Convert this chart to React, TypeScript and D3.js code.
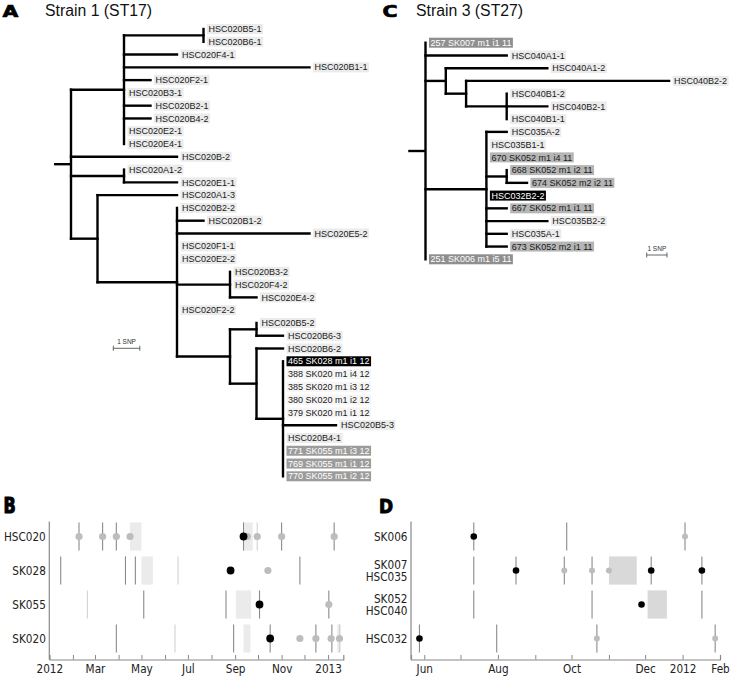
import React, { useEffect, useRef } from "react";
import * as d3 from "d3";

// ---------- Panel A tree: [id, parent, branch length in SNPs] ----------
const treeANodes: [string, string, number][] = [
  ["rootA", "", 0],
  ["a1", "rootA", 2],
  ["a1a", "a1", 3],
  ["HSC020B5-1", "a1a", 0],
  ["HSC020B6-1", "a1a", 0],
  ["HSC020F4-1", "a1", 2],
  ["HSC020B1-1", "a1", 7],
  ["HSC020F2-1", "a1", 1],
  ["HSC020B3-1", "a1", 0],
  ["HSC020B2-1", "a1", 1],
  ["HSC020B4-2", "a1", 1],
  ["HSC020E2-1", "a1", 0],
  ["HSC020E4-1", "a1", 0],
  ["HSC020B-2", "rootA", 4],
  ["a2", "rootA", 2],
  ["HSC020A1-2", "a2", 0],
  ["HSC020E1-1", "a2", 2],
  ["a3", "rootA", 1],
  ["HSC020A1-3", "a3", 3],
  ["a4", "a3", 3],
  ["HSC020B2-2", "a4", 0],
  ["HSC020B1-2", "a4", 1],
  ["HSC020E5-2", "a4", 5],
  ["HSC020F1-1", "a4", 0],
  ["HSC020E2-2", "a4", 0],
  ["a5", "a4", 2],
  ["HSC020B3-2", "a5", 0],
  ["HSC020F4-2", "a5", 0],
  ["HSC020E4-2", "a5", 1],
  ["HSC020F2-2", "a4", 0],
  ["a6", "a4", 2],
  ["a7", "a6", 1],
  ["HSC020B5-2", "a7", 0],
  ["HSC020B6-3", "a7", 1],
  ["a8", "a6", 1],
  ["HSC020B6-2", "a8", 1],
  ["a9", "a8", 1],
  ["465 SK028 m1 i1 12", "a9", 0],
  ["388 SK020 m1 i4 12", "a9", 0],
  ["385 SK020 m1 i3 12", "a9", 0],
  ["380 SK020 m1 i2 12", "a9", 0],
  ["379 SK020 m1 i1 12", "a9", 0],
  ["HSC020B5-3", "a9", 2],
  ["HSC020B4-1", "a9", 0],
  ["771 SK055 m1 i3 12", "a9", 0],
  ["769 SK055 m1 i1 12", "a9", 0],
  ["770 SK055 m1 i2 12", "a9", 0],
];

const labelStylesA: [string, string][] = [
  ["465 SK028 m1 i1 12", "black"],
  ["388 SK020 m1 i4 12", "plain"],
  ["385 SK020 m1 i3 12", "plain"],
  ["380 SK020 m1 i2 12", "plain"],
  ["379 SK020 m1 i1 12", "plain"],
  ["771 SK055 m1 i3 12", "gray"],
  ["769 SK055 m1 i1 12", "gray"],
  ["770 SK055 m1 i2 12", "gray"],
];

// ---------- Panel C tree ----------
const treeCNodes: [string, string, number][] = [
  ["rootC", "", 0],
  ["257 SK007 m1 i1 11", "rootC", 0],
  ["HSC040A1-1", "rootC", 4],
  ["cX", "rootC", 1],
  ["HSC040A1-2", "cX", 5],
  ["cY", "cX", 1],
  ["HSC040B2-2", "cY", 10],
  ["cZ", "cY", 2],
  ["HSC040B1-2", "cZ", 0],
  ["HSC040B2-1", "cZ", 2],
  ["HSC040B1-1", "cZ", 0],
  ["cW", "rootC", 3],
  ["HSC035A-2", "cW", 1],
  ["HSC035B1-1", "cW", 0],
  ["670 SK052 m1 i4 11", "cW", 0],
  ["cV", "cW", 1],
  ["668 SK052 m1 i2 11", "cV", 0],
  ["674 SK052 m2 i2 11", "cV", 1],
  ["HSC032B2-2", "cW", 0],
  ["667 SK052 m1 i1 11", "cW", 1],
  ["HSC035B2-2", "cW", 3],
  ["HSC035A-1", "cW", 1],
  ["673 SK052 m2 i1 11", "cW", 1],
  ["251 SK006 m1 i5 11", "rootC", 0],
];

const labelStylesC: [string, string][] = [
  ["257 SK007 m1 i1 11", "dark"],
  ["670 SK052 m1 i4 11", "mid"],
  ["668 SK052 m1 i2 11", "mid"],
  ["674 SK052 m2 i2 11", "mid"],
  ["HSC032B2-2", "black"],
  ["667 SK052 m1 i1 11", "mid"],
  ["673 SK052 m2 i1 11", "mid"],
  ["251 SK006 m1 i5 11", "dark"],
];

// ---------- Panel B timeline ----------
const rowsB = ["HSC020", "SK028", "SK055", "SK020"];
const tickLabelsB = ["2012", "", "Mar", "", "May", "", "Jul", "", "Sep", "", "Nov", "", "2013"];
const domainB = ["2012-01-01", "2013-01-21"];
// [row, date, tone]
const linesB: [string, string, string][] = [
  ["HSC020", "2012-02-09", "dark"],
  ["HSC020", "2012-03-11", "dark"],
  ["HSC020", "2012-03-29", "dark"],
  ["HSC020", "2012-09-12", "dark"],
  ["HSC020", "2012-09-30", "light"],
  ["HSC020", "2012-11-01", "dark"],
  ["HSC020", "2013-01-09", "dark"],
  ["SK028", "2012-01-16", "dark"],
  ["SK028", "2012-04-10", "dark"],
  ["SK028", "2012-04-23", "dark"],
  ["SK028", "2012-06-18", "light"],
  ["SK028", "2012-11-25", "dark"],
  ["SK055", "2012-02-20", "light"],
  ["SK055", "2012-05-04", "dark"],
  ["SK055", "2012-08-20", "dark"],
  ["SK055", "2012-10-03", "dark"],
  ["SK055", "2013-01-02", "dark"],
  ["SK020", "2012-03-29", "dark"],
  ["SK020", "2012-06-14", "light"],
  ["SK020", "2012-08-30", "dark"],
  ["SK020", "2012-10-17", "dark"],
  ["SK020", "2012-12-16", "dark"],
  ["SK020", "2013-01-06", "dark"],
  ["SK020", "2013-01-16", "light"],
];
const rectsB: [string, string, string][] = [
  ["HSC020", "2012-04-16", "2012-05-01"],
  ["HSC020", "2012-09-13", "2012-09-24"],
  ["SK028", "2012-05-01", "2012-05-16"],
  ["SK055", "2012-09-02", "2012-09-22"],
  ["SK020", "2012-09-12", "2012-09-21"],
  ["SK020", "2013-01-13", "2013-01-18"],
];
const grayDotsB: [string, string][] = [
  ["HSC020", "2012-02-09"],
  ["HSC020", "2012-03-11"],
  ["HSC020", "2012-03-29"],
  ["HSC020", "2012-04-16"],
  ["HSC020", "2012-09-17"],
  ["HSC020", "2012-09-30"],
  ["HSC020", "2012-11-01"],
  ["HSC020", "2013-01-09"],
  ["SK028", "2012-10-14"],
  ["SK055", "2013-01-02"],
  ["SK020", "2012-11-25"],
  ["SK020", "2012-12-16"],
  ["SK020", "2013-01-05"],
  ["SK020", "2013-01-16"],
];
const blackDotsB: [string, string][] = [
  ["HSC020", "2012-09-12"],
  ["SK028", "2012-08-26"],
  ["SK055", "2012-10-03"],
  ["SK020", "2012-10-17"],
];

// ---------- Panel D timeline ----------
const rowsD = ["SK006", "SK007\nHSC035", "SK052\nHSC040", "HSC032"];
const tickLabelsD = ["Jun", "", "Aug", "", "Oct", "", "Dec", "2012", "Feb"];
const domainD = ["2011-05-21", "2012-02-01"];
const linesD: [string, string, string][] = [
  ["SK006", "2011-07-12", "dark"],
  ["SK006", "2011-09-27", "dark"],
  ["SK006", "2012-01-03", "dark"],
  ["SK007\nHSC035", "2011-07-12", "dark"],
  ["SK007\nHSC035", "2011-08-16", "dark"],
  ["SK007\nHSC035", "2011-09-25", "dark"],
  ["SK007\nHSC035", "2011-10-18", "dark"],
  ["SK007\nHSC035", "2011-12-06", "dark"],
  ["SK007\nHSC035", "2012-01-17", "dark"],
  ["SK052\nHSC040", "2011-07-12", "dark"],
  ["SK052\nHSC040", "2011-10-18", "dark"],
  ["SK052\nHSC040", "2012-01-17", "dark"],
  ["HSC032", "2011-05-28", "dark"],
  ["HSC032", "2011-07-31", "dark"],
  ["HSC032", "2011-10-22", "dark"],
  ["HSC032", "2012-01-28", "dark"],
];
const rectsD: [string, string, string][] = [
  ["SK007\nHSC035", "2011-11-01", "2011-11-24"],
  ["SK052\nHSC040", "2011-12-03", "2011-12-19"],
];
const grayDotsD: [string, string][] = [
  ["SK006", "2012-01-03"],
  ["SK007\nHSC035", "2011-09-25"],
  ["SK007\nHSC035", "2011-10-18"],
  ["SK007\nHSC035", "2011-11-01"],
  ["HSC032", "2011-10-22"],
  ["HSC032", "2012-01-28"],
];
const blackDotsD: [string, string][] = [
  ["SK006", "2011-07-12"],
  ["SK007\nHSC035", "2011-08-16"],
  ["SK007\nHSC035", "2011-12-06"],
  ["SK007\nHSC035", "2012-01-17"],
  ["SK052\nHSC040", "2011-11-28"],
  ["HSC032", "2011-05-28"],
];

const LABEL_STYLES: Record<string, { bg: string; fg: string }> = {
  hsc: { bg: "#ebebeb", fg: "#1a1a1a" },
  plain: { bg: "#f5f5f5", fg: "#1a1a1a" },
  black: { bg: "#000000", fg: "#ffffff" },
  gray: { bg: "#9c9c9c", fg: "#ffffff" },
  dark: { bg: "#8f8f8f", fg: "#ffffff" },
  mid: { bg: "#b5b5b5", fg: "#1a1a1a" },
};

const parse = d3.timeParse("%Y-%m-%d");
const TREE_FONT = "'Liberation Sans', Arial, sans-serif";
const TL_FONT = "'DejaVu Sans', Verdana, sans-serif";

function drawTree(
  svg: any,
  nodes: [string, string, number][],
  styles: [string, string][],
  o: { x0: number; px: number; yTop: number; yBottom: number; stub: number; barX: number; barY: number }
) {
  const styleMap = new Map(styles);
  const root: any = d3
    .stratify<[string, string, number]>()
    .id((d) => d[0])
    .parentId((d) => (d[1] === "" ? null : d[1]))(nodes);
  root.eachBefore((n: any) => {
    n.dist = n.parent ? n.parent.dist + n.data[2] : 0;
  });
  const leaves = root.leaves();
  const y = d3.scalePoint().domain(leaves.map((l: any) => l.id)).range([o.yTop, o.yBottom]);
  const x = d3.scaleLinear().domain([0, 1]).range([o.x0, o.x0 + o.px]);
  root.eachAfter((n: any) => {
    n.yy = n.children ? (n.children[0].yy + n.children[n.children.length - 1].yy) / 2 : y(n.id);
  });
  const g = svg.append("g");

  // labels
  leaves.forEach((l: any) => {
    const st = LABEL_STYLES[styleMap.get(l.id) || "hsc"];
    const tx = x(l.dist) + 5;
    const t = g
      .append("text")
      .attr("x", tx)
      .attr("y", l.yy)
      .attr("dy", "0.35em")
      .attr("font-family", TREE_FONT)
      .attr("font-size", 9)
      .attr("fill", st.fg)
      .text(l.id);
    const w = (t.node() as SVGTextElement).getComputedTextLength();
    g.insert("rect", () => t.node())
      .attr("x", tx - 1.5)
      .attr("y", l.yy - 5)
      .attr("width", w + 3)
      .attr("height", 10)
      .attr("fill", st.bg);
  });

  const edges = root.descendants().filter((n: any) => n.parent && n.data[2] > 0);
  g.selectAll("line.h")
    .data(edges)
    .join("line")
    .attr("x1", (n: any) => x(n.parent.dist))
    .attr("x2", (n: any) => x(n.dist))
    .attr("y1", (n: any) => n.yy)
    .attr("y2", (n: any) => n.yy)
    .attr("stroke", "#000")
    .attr("stroke-width", 2.4)
    .attr("stroke-linecap", "square");
  const internals = root.descendants().filter((n: any) => n.children);
  g.selectAll("line.v")
    .data(internals)
    .join("line")
    .attr("x1", (n: any) => x(n.dist))
    .attr("x2", (n: any) => x(n.dist))
    .attr("y1", (n: any) => n.children[0].yy)
    .attr("y2", (n: any) => n.children[n.children.length - 1].yy)
    .attr("stroke", "#000")
    .attr("stroke-width", 2.4)
    .attr("stroke-linecap", "square");
  g.append("line")
    .attr("x1", x(-o.stub))
    .attr("x2", x(0))
    .attr("y1", root.yy)
    .attr("y2", root.yy)
    .attr("stroke", "#000")
    .attr("stroke-width", 2.4);

  // scale bar (1 SNP)
  const bx0 = o.barX;
  const bx1 = o.barX + (x(1) - x(0));
  const sb = g.append("g").attr("stroke", "#555").attr("stroke-width", 0.9);
  sb.append("line").attr("x1", bx0).attr("x2", bx1).attr("y1", o.barY).attr("y2", o.barY);
  sb.append("line").attr("x1", bx0).attr("x2", bx0).attr("y1", o.barY - 2.5).attr("y2", o.barY + 2.5);
  sb.append("line").attr("x1", bx1).attr("x2", bx1).attr("y1", o.barY - 2.5).attr("y2", o.barY + 2.5);
  g.append("text")
    .attr("x", (bx0 + bx1) / 2)
    .attr("y", o.barY - 4)
    .attr("text-anchor", "middle")
    .attr("font-family", TREE_FONT)
    .attr("font-size", 6.5)
    .attr("fill", "#333")
    .text("1 SNP");
}

function drawTimeline(
  svg: any,
  o: {
    rows: string[];
    domain: string[];
    x0: number;
    x1: number;
    tickLabels: string[];
    lines: [string, string, string][];
    rects: [string, string, string][];
    gray: [string, string][];
    black: [string, string][];
    rectFill: string;
    rBlack: number;
    rGray: number;
  }
) {
  const g = svg.append("g");
  const d0 = parse(o.domain[0]) as Date;
  const d1 = parse(o.domain[1]) as Date;
  const x = d3.scaleTime().domain([d0, d1]).range([o.x0, o.x1]);
  const y = d3.scaleBand().domain(o.rows).range([519.5, 655.5]).paddingInner(0.17).paddingOuter(0.085);
  const bw = y.bandwidth();
  const axisY = 659.5;
  const P = (s: string) => parse(s) as Date;

  g.selectAll("rect.r")
    .data(o.rects)
    .join("rect")
    .attr("x", (d: any) => x(P(d[1])))
    .attr("width", (d: any) => x(P(d[2])) - x(P(d[1])))
    .attr("y", (d: any) => y(d[0]) as number)
    .attr("height", bw)
    .attr("fill", o.rectFill);

  g.selectAll("line.s")
    .data(o.lines)
    .join("line")
    .attr("x1", (d: any) => x(P(d[1])))
    .attr("x2", (d: any) => x(P(d[1])))
    .attr("y1", (d: any) => y(d[0]) as number)
    .attr("y2", (d: any) => (y(d[0]) as number) + bw)
    .attr("stroke", (d: any) => (d[2] === "dark" ? "#8a8a8a" : "#d2d2d2"))
    .attr("stroke-width", 1.1);

  g.selectAll("circle.g")
    .data(o.gray)
    .join("circle")
    .attr("cx", (d: any) => x(P(d[1])))
    .attr("cy", (d: any) => (y(d[0]) as number) + bw / 2)
    .attr("r", o.rGray)
    .attr("fill", "#bdbdbd");

  g.selectAll("circle.b")
    .data(o.black)
    .join("circle")
    .attr("cx", (d: any) => x(P(d[1])))
    .attr("cy", (d: any) => (y(d[0]) as number) + bw / 2)
    .attr("r", o.rBlack)
    .attr("fill", "#000");

  // y axis line
  g.append("line")
    .attr("x1", o.x0)
    .attr("x2", o.x0)
    .attr("y1", 521.5)
    .attr("y2", axisY)
    .attr("stroke", "#888")
    .attr("stroke-width", 1.2);

  // row labels
  o.rows.forEach((r) => {
    const parts = r.split("\n");
    const cy = (y(r) as number) + bw / 2;
    const multi = parts.length > 1;
    parts.forEach((p, i) => {
      const yy = cy + (i - (parts.length - 1) / 2) * 12.2;
      g.append("text")
        .attr("transform", `translate(${o.x0 - 3.5},${yy}) scale(1,${multi ? 1.1 : 1.2})`)
        .attr("dy", "0.36em")
        .attr("text-anchor", "end")
        .attr("font-family", TL_FONT)
        .attr("font-size", 10.5)
        .attr("fill", "#222")
        .text(p);
    });
  });

  // x axis
  const ticks = d3.timeMonth.range(d3.timeMonth.ceil(d0), d3.timeDay.offset(d1, 1));
  const axis = d3
    .axisBottom(x)
    .tickValues(ticks)
    .tickSizeInner(-4.5)
    .tickSizeOuter(-4.5)
    .tickFormat((_d: any, i: number) => o.tickLabels[i] || "");
  const ga = g
    .append("g")
    .attr("transform", `translate(0,${axisY})`)
    .attr("color", "#888")
    .call(axis);
  ga.select(".domain").attr("stroke-width", 1.2);
  ga.selectAll(".tick text")
    .attr("y", null)
    .attr("dy", null)
    .attr("transform", "translate(0,13.8) scale(1,1.2)")
    .attr("font-family", TL_FONT)
    .attr("font-size", 10.5)
    .attr("fill", "#222");
}

function title(svg: any, letter: string, x: number, y: number, size: number, sy: number) {
  svg
    .append("text")
    .attr("transform", `translate(${x},${y}) scale(1,${sy})`)
    .attr("font-family", "'DejaVu Sans', Arial, sans-serif")
    .attr("font-weight", "bold")
    .attr("font-size", size)
    .attr("fill", "#000")
    .attr("stroke", "#000")
    .attr("stroke-width", 0.9)
    .attr("stroke-linejoin", "round")
    .text(letter);
}

export default function App() {
  const ref = useRef<SVGSVGElement>(null);
  useEffect(() => {
    const svg = d3.select(ref.current);
    svg.selectAll("*").remove();
    svg.append("rect").attr("width", 730).attr("height", 677).attr("fill", "#fff");

    // titles
    title(svg, "A", 2.5, 16.6, 20.5, 0.8);
    title(svg, "C", 382.5, 16.6, 20.5, 0.8);
    title(svg, "B", 3.5, 512.8, 16, 1.3);
    title(svg, "D", 379, 513.3, 17, 1.15);
    svg
      .append("text")
      .attr("x", 45)
      .attr("y", 16.3)
      .attr("font-family", TREE_FONT)
      .attr("font-size", 15.8)
      .attr("fill", "#111")
      .text("Strain 1 (ST17)");
    svg
      .append("text")
      .attr("x", 416)
      .attr("y", 16.3)
      .attr("font-family", TREE_FONT)
      .attr("font-size", 15.8)
      .attr("fill", "#111")
      .text("Strain 3 (ST27)");

    drawTree(svg, treeANodes, labelStylesA, {
      x0: 71,
      px: 26.5,
      yTop: 29,
      yBottom: 476.3,
      stub: 0.64,
      barX: 113.3,
      barY: 348.3,
    });
    drawTree(svg, treeCNodes, labelStylesC, {
      x0: 425.5,
      px: 20.3,
      yTop: 42.7,
      yBottom: 259.3,
      stub: 0.85,
      barX: 646.7,
      barY: 255,
    });

    drawTimeline(svg, {
      rows: rowsB,
      domain: domainB,
      x0: 49.3,
      x1: 343.3,
      tickLabels: tickLabelsB,
      lines: linesB,
      rects: rectsB,
      gray: grayDotsB,
      black: blackDotsB,
      rectFill: "#ebebeb",
      rBlack: 3.9,
      rGray: 3.6,
    });
    drawTimeline(svg, {
      rows: rowsD,
      domain: domainD,
      x0: 411,
      x1: 720,
      tickLabels: tickLabelsD,
      lines: linesD,
      rects: rectsD,
      gray: grayDotsD,
      black: blackDotsD,
      rectFill: "#d9d9d9",
      rBlack: 3.3,
      rGray: 3.0,
    });
  }, []);
  return (
    <svg
      ref={ref}
      width={730}
      height={677}
      style={{ position: "absolute", left: 0, top: 0, background: "#fff" }}
    />
  );
}
